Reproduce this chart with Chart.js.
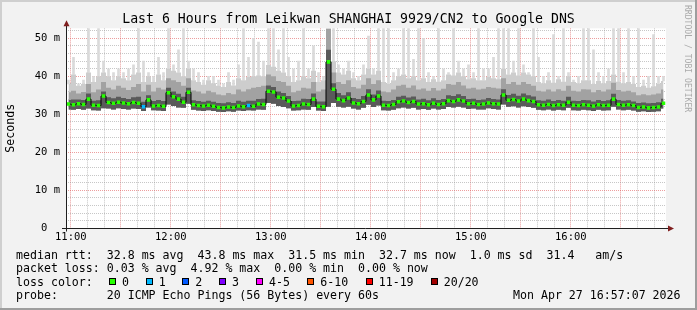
<!DOCTYPE html>
<html><head><meta charset="utf-8">
<script src="https://cdn.jsdelivr.net/npm/chart.js@4.4.1/dist/chart.umd.min.js"></script>
<style>
html,body{margin:0;padding:0;background:#f2f2f2;}
#wrap{position:relative;width:697px;height:310px;overflow:hidden;}
canvas{position:absolute;left:0;top:0;}
.t{position:absolute;font-family:'DejaVu Sans Mono',monospace;font-size:11.6px;line-height:14px;height:14px;white-space:pre;color:#000;}
.box{position:absolute;width:5px;height:5px;border:1px solid #000;}
#wm{position:absolute;left:684px;top:5px;writing-mode:vertical-rl;font-family:'DejaVu Sans Mono',monospace;font-size:8.1px;color:#aaaaaa;white-space:pre;line-height:8px;}
</style></head><body>
<div id="wrap"><canvas id="c" width="697" height="310"></canvas><div id="legend"></div><div id="wm">RRDTOOL / TOBI OETIKER</div></div>
<script>
// Time base: graph starts 10:57:07 (minutes after 10:00), samples every 3 minutes
const startMinute = 57 + 7 / 60;
const stepMinutes = 3;
const spanMinutes = 360;

const median = [
 32.7, 32.5, 32.8, 32.6, 34.0, 32.4, 32.3, 34.8, 33.1, 32.9,
 33.2, 33.0, 32.8, 33.1, 32.9, 32.0, 33.8, 32.2, 32.3, 32.1,
 35.7, 34.6, 34.0, 33.2, 35.8, 32.5, 32.3, 32.2, 32.4, 32.1,
 31.8, 31.7, 31.9, 31.8, 32.2, 32.0, 32.3, 32.1, 32.7, 32.6,
 36.1, 35.9, 34.5, 34.3, 33.5, 32.2, 32.3, 32.7, 32.6, 34.0,
 32.1, 32.0, 43.8, 36.6, 34.0, 33.6, 34.3, 33.0, 32.8, 33.4,
 35.1, 33.8, 34.8, 32.4, 32.3, 32.6, 33.3, 33.5, 33.1, 33.4,
 32.7, 32.8, 32.5, 32.9, 32.6, 32.8, 33.6, 33.4, 33.8, 33.5,
 32.8, 32.9, 32.6, 32.7, 33.0, 32.8, 32.7, 35.1, 33.7, 33.9,
 33.5, 34.0, 33.6, 33.4, 32.5, 32.4, 32.6, 32.3, 32.5, 32.4,
 33.2, 32.4, 32.3, 32.5, 32.4, 32.2, 32.5, 32.3, 32.4, 34.0,
 32.6, 32.4, 32.5, 32.3, 31.8, 31.9, 31.7, 31.8, 31.9, 32.9
];
const minPing = [
 31.3, 31.2, 31.4, 31.2, 31.5, 31.1, 31.0, 31.6, 31.5, 31.3,
 31.6, 31.4, 31.3, 31.5, 31.4, 30.9, 31.8, 31.1, 31.0, 30.9,
 32.6, 32.2, 31.8, 31.7, 32.8, 31.2, 31.0, 30.9, 31.1, 30.9,
 30.7, 30.6, 30.8, 30.7, 31.0, 30.9, 31.1, 31.0, 31.3, 31.2,
 33.0, 32.8, 32.2, 31.9, 31.6, 31.0, 31.1, 31.3, 31.2, 31.9,
 31.0, 30.9, 32.0, 33.0, 32.0, 31.8, 32.0, 31.5, 31.3, 31.7,
 32.5, 31.9, 32.3, 31.1, 31.0, 31.2, 31.6, 31.8, 31.5, 31.7,
 31.3, 31.4, 31.2, 31.5, 31.3, 31.4, 31.9, 31.8, 32.0, 31.8,
 31.4, 31.5, 31.3, 31.3, 31.6, 31.4, 31.3, 32.6, 32.0, 32.1,
 31.8, 32.1, 31.9, 31.7, 31.2, 31.1, 31.3, 31.0, 31.2, 31.1,
 31.7, 31.1, 31.0, 31.2, 31.1, 30.9, 31.2, 31.0, 31.1, 32.0,
 31.3, 31.1, 31.2, 31.0, 30.7, 30.8, 30.6, 30.7, 30.8, 31.5
];
const p60 = [
 33.8, 33.9, 33.9, 33.8, 35.5, 33.6, 33.7, 36.0, 34.5, 34.2,
 34.6, 34.3, 34.0, 34.5, 34.6, 33.3, 35.0, 33.5, 33.8, 33.5,
 37.0, 36.0, 35.4, 34.6, 37.0, 33.7, 33.5, 33.3, 33.6, 33.3,
 33.0, 32.9, 33.2, 33.0, 33.6, 33.3, 33.6, 33.6, 34.0, 34.1,
 37.6, 37.2, 36.0, 35.6, 34.8, 33.5, 33.6, 34.1, 34.0, 35.5,
 33.4, 33.4, 47.0, 38.2, 35.6, 35.0, 35.8, 34.3, 34.0, 34.8,
 36.6, 35.2, 36.3, 33.6, 33.5, 33.8, 34.6, 34.9, 34.4, 34.7,
 33.9, 34.1, 33.7, 34.2, 33.8, 34.0, 35.0, 34.8, 35.3, 34.8,
 34.0, 34.1, 33.8, 33.9, 34.3, 34.0, 33.9, 36.6, 35.1, 35.4,
 34.9, 35.5, 35.0, 34.7, 33.7, 33.6, 33.9, 33.5, 33.8, 33.6,
 34.6, 33.6, 33.5, 33.8, 33.7, 33.4, 33.8, 33.5, 33.7, 35.4,
 33.8, 33.6, 33.7, 33.4, 33.0, 33.1, 32.9, 33.0, 33.2, 34.1
];
const p75 = [
 35.8, 36.2, 35.5, 35.9, 38.0, 35.8, 36.5, 38.5, 37.0, 36.5,
 37.5, 37.0, 36.4, 37.2, 38.0, 36.0, 37.8, 36.0, 37.0, 36.5,
 39.5, 39.0, 38.5, 37.5, 39.5, 36.3, 36.0, 35.5, 36.2, 35.8,
 35.2, 35.0, 35.6, 35.3, 36.5, 36.0, 36.6, 37.0, 37.2, 37.5,
 40.5, 40.0, 38.8, 38.5, 37.5, 35.8, 36.2, 37.0, 36.8, 38.5,
 36.0, 36.5, 52.6, 41.0, 38.5, 38.0, 39.0, 37.2, 36.8, 37.8,
 39.5, 38.0, 39.0, 36.0, 35.8, 36.5, 37.5, 37.8, 37.0, 37.6,
 36.5, 36.8, 36.2, 36.9, 36.3, 36.7, 38.0, 37.8, 38.5, 37.6,
 36.8, 37.0, 36.5, 36.7, 37.2, 37.0, 36.8, 39.5, 38.0, 38.5,
 37.8, 38.5, 38.0, 37.5, 36.2, 36.0, 36.5, 36.0, 36.6, 36.2,
 37.5, 36.2, 36.0, 36.6, 36.5, 35.8, 36.4, 36.0, 36.5, 38.3,
 36.4, 36.0, 36.2, 35.8, 35.0, 35.3, 35.0, 35.2, 35.5, 36.5
];
const p90 = [
 38.0, 40.5, 37.5, 38.0, 41.0, 38.5, 40.0, 41.0, 40.0, 39.0,
 40.0, 39.5, 39.0, 40.5, 41.0, 38.5, 40.0, 38.5, 40.5, 39.0,
 42.0, 41.5, 41.0, 40.0, 42.0, 39.0, 38.5, 37.8, 39.0, 38.2,
 37.5, 37.2, 38.5, 37.6, 39.5, 39.0, 39.8, 40.0, 40.2, 40.0,
 43.0, 42.5, 41.5, 41.0, 40.0, 38.5, 39.0, 40.0, 39.5, 41.5,
 38.5, 39.0, 52.6, 44.0, 41.0, 40.5, 41.5, 39.5, 39.0, 40.5,
 42.0, 40.5, 41.5, 38.5, 38.0, 39.0, 40.0, 40.5, 39.5, 40.0,
 39.0, 39.5, 38.5, 39.2, 38.6, 39.0, 40.5, 40.2, 41.0, 40.0,
 39.2, 39.5, 39.0, 39.0, 39.8, 39.5, 39.2, 42.0, 40.5, 41.0,
 40.2, 41.0, 40.5, 40.0, 38.5, 38.2, 39.0, 38.3, 39.2, 38.6,
 40.0, 38.5, 38.2, 39.0, 39.0, 38.0, 38.8, 38.2, 38.8, 40.5,
 38.6, 38.2, 38.5, 38.0, 37.2, 37.5, 37.0, 37.4, 38.0, 38.8
];
const maxPing = [
 39, 45, 38, 39, 52.6, 40, 52.6, 44, 42, 41,
 42, 41, 42, 43, 52.6, 44, 41, 40, 45, 41,
 52.6, 43, 47, 52.6, 44, 42, 41, 39, 40, 40,
 39, 38, 41, 39, 43, 52.6, 45, 50, 49, 44,
 52.6, 52.6, 47, 52.6, 45, 42, 44, 52.6, 42, 48,
 41, 40, 52.6, 52.6, 43, 42, 44, 41, 40, 43,
 50.6, 42, 52.6, 52.6, 52.6, 41, 42, 52.6, 52.6, 44.5,
 52.6, 50, 41, 40, 52.6, 42, 41, 52.6, 44, 42,
 43, 41, 52.6, 42, 42, 45, 52.6, 52.6, 52.6, 44,
 52.6, 43, 41, 52.6, 45, 40, 41, 51, 40, 52.6,
 41, 39, 40, 52.6, 52.6, 47, 41, 40, 42, 52.6,
 52.6, 41, 52.6, 40, 52.6, 39, 40, 51, 40, 40
];
// samples with 1 lost ping (drawn in loss colour "1")
const lossIdx = [15, 36];

const lossLabels = ['0', '1', '2', '3', '4-5', '6-10', '11-19', '20/20'];
const lossColors = ['#26ff00', '#00b8ff', '#0059ff', '#7e00ff', '#ff00ff', '#ff5500', '#ff0000', '#a10000'];

// x grid every 10 minutes (11:00 .. 16:50), labels on the hour
const xTickMinutes = [60, 70, 80, 90, 100, 110, 120, 130, 140, 150, 160, 170, 180, 190, 200, 210, 220, 230,
  240, 250, 260, 270, 280, 290, 300, 310, 320, 330, 340, 350, 360, 370, 380, 390, 400, 410];

const titleText = 'Last 6 Hours from Leikwan SHANGHAI 9929/CN2 to Google DNS';
const legendLines = [
 'median rtt:  32.8 ms avg  43.8 ms max  31.5 ms min  32.7 ms now  1.0 ms sd  31.4   am/s',
 'packet loss: 0.03 % avg  4.92 % max  0.00 % min  0.00 % now',
 'loss color:',
 'probe:       20 ICMP Echo Pings (56 Bytes) every 60s'
];
const stampText = 'Mon Apr 27 16:57:07 2026';

// ---------- legend (HTML text) ----------
(function(){
  const L = document.getElementById('legend');
  const tops = [248, 261.4, 274.8, 288.2];
  legendLines.forEach((s, i) => {
    const d = document.createElement('div'); d.className = 't';
    d.style.left = '16px'; d.style.top = tops[i] + 'px'; d.textContent = s; L.appendChild(d);
  });
  const st = document.createElement('div'); st.className = 't';
  st.style.left = '513px'; st.style.top = tops[3] + 'px'; st.textContent = stampText; L.appendChild(st);
  const boxX = [109, 145.7, 182.3, 219, 256, 307.3, 365.7, 430.7];
  lossLabels.forEach((lab, i) => {
    const b = document.createElement('div'); b.className = 'box';
    b.style.left = boxX[i] + 'px'; b.style.top = '278px'; b.style.background = lossColors[i]; L.appendChild(b);
    const t = document.createElement('div'); t.className = 't';
    t.style.left = (boxX[i] + 13) + 'px'; t.style.top = tops[2] + 'px'; t.textContent = lab; L.appendChild(t);
  });
})();

// ---------- chart ----------
const xs = median.map((_, i) => startMinute + stepMinutes * i + stepMinutes / 2);
const pts = arr => arr.map((v, i) => ({x: xs[i], y: v}));
const spikes = maxPing.map((v, i) => ({x: xs[i], y: [p90[i], v]})).filter(d => d.y[1] > d.y[0]);

const MAJ = 'rgba(222,79,79,0.55)';
const MIN = 'rgba(143,143,143,0.5)';

const framePlugin = {
  id: 'frame',
  beforeDraw(chart) {
    const {ctx, chartArea: a, width: W, height: H} = chart;
    ctx.save();
    ctx.fillStyle = '#f2f2f2'; ctx.fillRect(0, 0, W, H);
    ctx.fillStyle = '#ffffff'; ctx.fillRect(a.left, a.top, a.right - a.left, a.bottom - a.top);
    ctx.fillStyle = '#cfcfcf'; ctx.fillRect(0, 0, W, 2); ctx.fillRect(0, 0, 2, H);
    ctx.fillStyle = '#9e9e9e'; ctx.fillRect(0, H - 2, W, 2); ctx.fillRect(W - 2, 0, 2, H);
    ctx.restore();
  },
  afterDraw(chart) {
    const {ctx, chartArea: a} = chart;
    ctx.save();
    ctx.strokeStyle = '#1f1f1f'; ctx.lineWidth = 1;
    const xl = Math.round(a.left) + 0.5, yb = Math.round(a.bottom) + 0.5;
    ctx.beginPath(); ctx.moveTo(xl, yb + 3); ctx.lineTo(xl, a.top - 4); ctx.stroke();
    ctx.beginPath(); ctx.moveTo(a.left - 4, yb); ctx.lineTo(a.right + 3, yb); ctx.stroke();
    ctx.fillStyle = '#801f1f';
    ctx.beginPath(); ctx.moveTo(xl, a.top - 8); ctx.lineTo(xl - 3, a.top - 2); ctx.lineTo(xl + 3, a.top - 2); ctx.closePath(); ctx.fill();
    ctx.beginPath(); ctx.moveTo(a.right + 8, yb); ctx.lineTo(a.right + 2, yb - 3); ctx.lineTo(a.right + 2, yb + 3); ctx.closePath(); ctx.fill();
    ctx.restore();
  }
};

const band = (data, color) => ({type: 'line', data, borderColor: 'transparent', borderWidth: 0, pointRadius: 0,
  stepped: 'middle', fill: 4, backgroundColor: color});

Chart.defaults.font.family = "'DejaVu Sans Mono', monospace";
Chart.defaults.color = '#000';

new Chart(document.getElementById('c'), {
  type: 'line',
  data: {
    datasets: [
      {type: 'line', label: 'median', data: pts(median), borderColor: '#000', borderWidth: 1, stepped: 'middle',
       pointStyle: 'rect', pointRadius: 2.5, pointHoverRadius: 2.5, pointBorderWidth: 0,
       pointBackgroundColor: c => lossIdx.includes(c.dataIndex) ? lossColors[1] : lossColors[0], fill: false},
      band(pts(p60), '#5a5a5a'),
      band(pts(p75), '#a2a2a2'),
      band(pts(p90), '#cdcdcd'),
      {type: 'line', label: 'min', data: pts(minPing), borderColor: 'transparent', borderWidth: 0, pointRadius: 0, stepped: 'middle', fill: false},
      {type: 'bar', label: 'max', data: spikes, backgroundColor: '#dadada', borderWidth: 0, barThickness: 2}
    ]
  },
  options: {
    responsive: false, animation: false, events: [],
    layout: {padding: 0},
    plugins: {
      legend: {display: false}, tooltip: {enabled: false},
      title: {display: true, text: titleText, color: '#000', font: {size: 13.2, weight: 'normal'}, padding: {top: 11.5, bottom: 1}}
    },
    scales: {
      x: {type: 'linear', min: startMinute, max: startMinute + spanMinutes, offset: false, z: 1,
        grid: {offset: false, drawTicks: false, lineWidth: 1, color: c => (c.tick && c.tick.value % 30 === 0) ? MAJ : MIN},
        border: {display: false, dash: [1, 1]},
        afterBuildTicks: s => { s.ticks = xTickMinutes.map(v => ({value: v})); },
        ticks: {autoSkip: false, maxRotation: 0, minRotation: 0, padding: 3, font: {size: 10.5},
          callback: v => v % 60 === 0 ? (String(10 + v / 60).padStart(2, '0') + ':00') : ''},
        afterFit: s => { s.height = 81.7; }
      },
      y: {type: 'linear', min: 0, max: 52.63, z: 1,
        grid: {drawTicks: false, lineWidth: 1, color: c => (c.tick && c.tick.value % 10 === 0) ? MAJ : MIN},
        border: {display: false, dash: [1, 1]},
        ticks: {stepSize: 2, autoSkip: false, includeBounds: false, padding: 6, font: {size: 10.5},
          callback: v => v % 10 === 0 ? (v === 0 ? '0  ' : v + ' m') : ''},
        title: {display: true, text: 'Seconds', font: {size: 11.6}, padding: {top: 4, bottom: 0}},
        afterFit: s => { s.width = 66; }
      },
      yr: {type: 'linear', position: 'right', display: true, grid: {display: false}, border: {display: false},
        ticks: {display: false}, afterFit: s => { s.width = 31; }}
    }
  },
  plugins: [framePlugin]
});
</script>
</body></html>
